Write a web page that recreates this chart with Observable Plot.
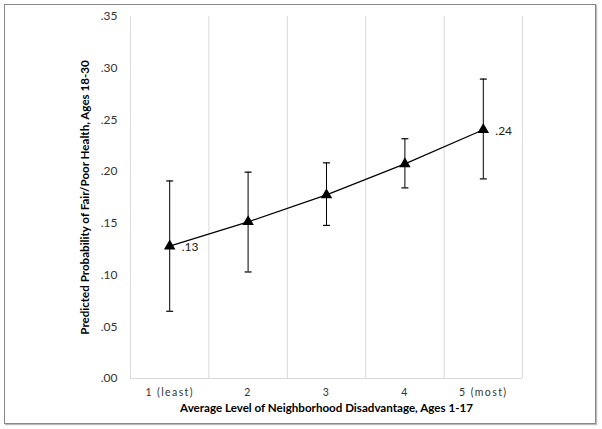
<!DOCTYPE html>
<html>
<head>
<meta charset="utf-8">
<script src="https://cdn.jsdelivr.net/npm/d3@7"></script>
<script src="https://cdn.jsdelivr.net/npm/@observablehq/plot@0.6"></script>
<style>
  html, body { margin: 0; padding: 0; background: #fff; }
  #wrap { position: relative; width: 602px; height: 429px; overflow: hidden; }
  #border { position: absolute; left: 4px; top: 4px; width: 590px; height: 418px;
            border: 1.6px solid #888; box-shadow: 1px 1px 1px #bbb; pointer-events: none; }
  .xax text { letter-spacing: 1.4px; }
</style>
</head>
<body>
<div id="wrap"><div id="border"></div></div>
<script>
// Data
const categories = [1, 2, 3, 4, 5];
const categoryLabels = ["1 (least)", "2", "3", "4", "5 (most)"];
const predicted = [0.128, 0.1515, 0.1775, 0.2075, 0.2405];
const ciLower = [0.065, 0.103, 0.148, 0.1843, 0.193];
const ciUpper = [0.191, 0.1995, 0.2085, 0.2318, 0.2895];
const pointLabels = [".13", null, null, null, ".24"];
const yTicks = [0, 0.05, 0.10, 0.15, 0.20, 0.25, 0.30, 0.35];

const rows = categories.map((c, i) => ({
  x: c, y: predicted[i], lo: ciLower[i], hi: ciUpper[i], label: pointLabels[i]
}));
const caps = rows.flatMap(d => [{x: d.x, y: d.lo}, {x: d.x, y: d.hi}]);
const gridPos = [...categories.map(c => c - 0.5), categories[categories.length - 1] + 0.5];

const capSymbol = { draw(ctx, size) { ctx.moveTo(-3.5, 0); ctx.lineTo(3.5, 0); } };
const fmt = v => d3.format(".2f")(v).replace(/^0/, "");

const chart = Plot.plot({
  width: 602,
  height: 429,
  marginLeft: 130,
  marginRight: 80,
  marginTop: 16,
  marginBottom: 51,
  style: { fontFamily: "Lato, 'Open Sans', sans-serif", fontSize: "11px", color: "#000", background: "transparent" },
  x: { domain: [0.5, 5.5] },
  y: { domain: [0, 0.35] },
  marks: [
    Plot.ruleX(gridPos, { stroke: "#d9d9d9", strokeWidth: 1 }),
    Plot.ruleY([0], { stroke: "#d9d9d9", strokeWidth: 1 }),
    Plot.axisY({
      ticks: yTicks, tickFormat: fmt, tickSize: 0, tickPadding: 13,
      fill: "#333", fontSize: 12,
      label: "Predicted Probability of Fair/Poor Health, Ages 18-30",
      labelAnchor: "center", labelArrow: "none", labelOffset: 50
    }),
    Plot.axisX({
      ticks: categories, tickFormat: c => categoryLabels[categories.indexOf(c)],
      tickSize: 0, tickPadding: 10, fill: "#333", fontSize: 10.5, className: "xax",
      label: null
    }),
    Plot.text(["Average Level of Neighborhood Disadvantage, Ages 1-17"], {
      frameAnchor: "bottom", dy: 33, fontWeight: "bold", fontSize: 11.6, fill: "#000"
    }),
    Plot.ruleX(rows, { x: "x", y1: "lo", y2: "hi", stroke: "#000", strokeWidth: 1 }),
    Plot.dot(caps, { x: "x", y: "y", symbol: capSymbol, stroke: "#000", strokeWidth: 1.2, r: 4 }),
    Plot.line(rows, { x: "x", y: "y", stroke: "#000", strokeWidth: 1.2 }),
    Plot.dot(rows, { x: "x", y: "y", symbol: "triangle", fill: "#000", stroke: "#000", r: 3.3 }),
    Plot.text(rows.filter(d => d.label), { x: "x", y: "y", text: "label", textAnchor: "start", dx: 12, dy: 1, fontSize: 12, fill: "#222" })
  ]
});
document.getElementById("wrap").appendChild(chart);
chart.querySelectorAll("text").forEach(t => {
  if (t.textContent.startsWith("Predicted")) { t.style.fontWeight = "bold"; t.setAttribute("font-size", "11.6"); t.setAttribute("fill", "#000"); }
});
</script>
</body>
</html>
